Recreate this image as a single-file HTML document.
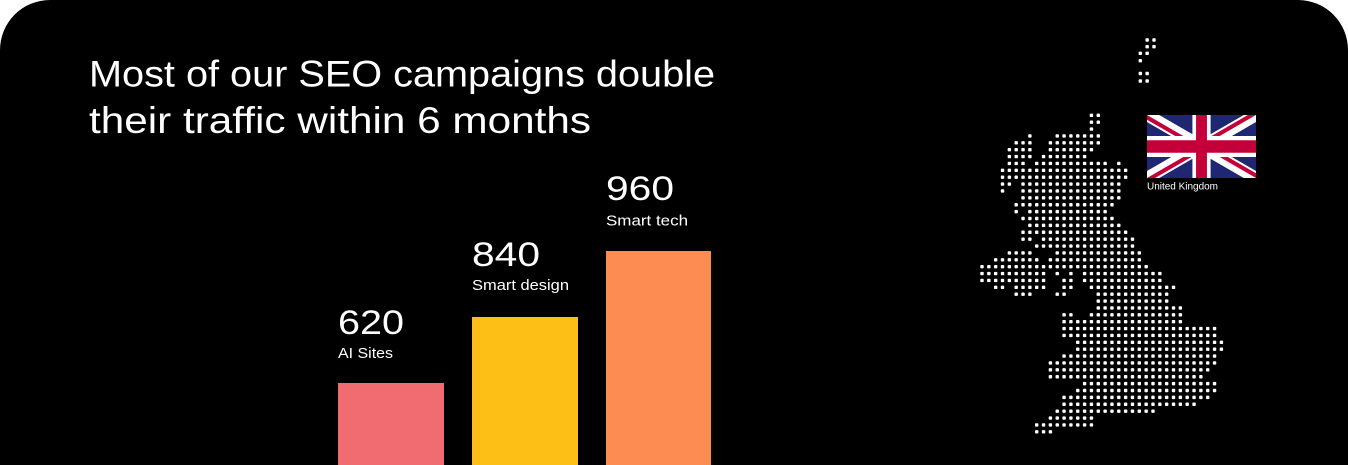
<!DOCTYPE html>
<html><head><meta charset="utf-8"><style>
html,body{margin:0;padding:0;background:#fff;width:1348px;height:465px;overflow:hidden}
svg{display:block}
text{font-family:"Liberation Sans",sans-serif;fill:#fff}
</style></head><body>
<svg id="s" width="1348" height="465" viewBox="0 0 1348 465" xmlns="http://www.w3.org/2000/svg">
<path d="M0,465 V50 A50,50 0 0 1 50,0 H1298 A50,50 0 0 1 1348,50 V465 Z" fill="#000"/>
<text x="89" y="86.5" font-size="37" textLength="626" lengthAdjust="spacingAndGlyphs">Most of our SEO campaigns double</text>
<text x="89" y="133" font-size="37" textLength="502" lengthAdjust="spacingAndGlyphs">their traffic within 6 months</text>

<rect x="338" y="383" width="106" height="82" fill="#f06c71"/>
<rect x="472" y="317" width="106" height="148" fill="#fdbf16"/>
<rect x="606" y="251" width="105" height="214" fill="#fd8c52"/>

<text x="338" y="334" font-size="34" textLength="66" lengthAdjust="spacingAndGlyphs">620</text>
<text x="338" y="358" font-size="14.5" textLength="55" lengthAdjust="spacingAndGlyphs">AI Sites</text>
<text x="472" y="266" font-size="34" textLength="68" lengthAdjust="spacingAndGlyphs">840</text>
<text x="472" y="290" font-size="14.5" textLength="97" lengthAdjust="spacingAndGlyphs">Smart design</text>
<text x="606" y="200" font-size="34" textLength="68" lengthAdjust="spacingAndGlyphs">960</text>
<text x="606" y="225.5" font-size="14.5" textLength="82" lengthAdjust="spacingAndGlyphs">Smart tech</text>

<svg x="1147" y="115" width="109" height="63" viewBox="0 0 60 30" preserveAspectRatio="none">
<clipPath id="c"><path d="M30,15 h30 v15 z v15 h-30 z h-30 v-15 z v-15 h30 z"/></clipPath>
<path d="M0,0 v30 h60 v-30 z" fill="#1f2672"/>
<path d="M0,0 L60,30 M60,0 L0,30" stroke="#fff" stroke-width="6"/>
<path d="M0,0 L60,30 M60,0 L0,30" clip-path="url(#c)" stroke="#c4003a" stroke-width="4"/>
<path d="M30,0 v30 M0,15 h60" stroke="#fff" stroke-width="10"/>
<path d="M30,0 v30 M0,15 h60" stroke="#c4003a" stroke-width="6"/>
</svg>
<text x="1147" y="189.5" font-size="10" textLength="71" lengthAdjust="spacingAndGlyphs">United Kingdom</text>
<g id="dots" fill="#fff"></g>
</svg>
<script>
(function(){
var g=document.getElementById('dots');var ns='http://www.w3.org/2000/svg';
function dot(x,y){var r=document.createElementNS(ns,'rect');r.setAttribute('x',x-1.7);r.setAttribute('y',y-1.7);r.setAttribute('width',3.4);r.setAttribute('height',3.4);r.setAttribute('rx',0.8);g.appendChild(r);}
function cx(c){return 982+6.84*c;}
var sh=[[40,[24,25]],[46.7,[24,25]],[53.3,[23,24]],[60.7,[23]],[73.5,[23,24]],[81,[23,24]]];
sh.forEach(function(s){s[1].forEach(function(c){dot(cx(c)+1,s[0]);});});
var rows=[
[[16,17]],[[16,17]],[[16,16]],[[7,7],[11,17]],[[5,7],[10,17]],[[4,7],[10,16]],[[4,7],[9,15]],
[[4,6],[8,18],[20,20]],[[3,21]],[[3,21]],[[3,4],[6,20]],[[3,3],[6,20]],[[6,20]],[[5,19]],
[[5,5],[7,18]],[[6,19]],[[7,20]],[[6,21]],[[6,7],[9,22]],[[8,22]],[[4,7],[11,23]],[[2,8],[10,23]],
[[0,24]],[[0,9],[11,11],[13,13],[15,26]],[[0,9],[12,13],[15,26]],[[2,3],[5,9],[12,13],[16,28]],
[[5,7],[11,12],[17,27]],[[17,27]],[[17,29]],[[12,13],[16,29]],[[12,29]],[[12,34]],[[12,34]],
[[14,35]],[[14,35]],[[12,34]],[[10,34]],[[10,33]],[[10,32]],[[15,34]],[[14,34]],[[12,33]],
[[12,31]],[[11,25]],[[10,16]],[[8,16]],[[8,10]]];
rows.forEach(function(rw,i){var y=115.3+6.88*i;rw.forEach(function(rg){for(var c=rg[0];c<=rg[1];c++)dot(cx(c),y);});});
})();
</script>
</body></html>
